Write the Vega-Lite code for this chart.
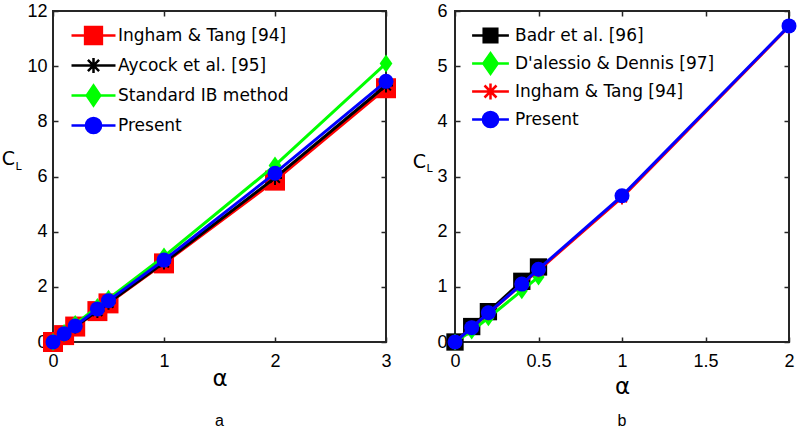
{
  "$schema": "https://vega.github.io/schema/vega-lite/v6.json",
  "padding": {"left": 0, "top": 1, "right": 5, "bottom": 0},
  "spacing": 2,
  "datasets": {
    "a": [
      {"series": "Ingham & Tang [94]", "alpha": 0, "cl": 0},
      {"series": "Ingham & Tang [94]", "alpha": 0.1, "cl": 0.25},
      {"series": "Ingham & Tang [94]", "alpha": 0.2, "cl": 0.56},
      {"series": "Ingham & Tang [94]", "alpha": 0.4, "cl": 1.12},
      {"series": "Ingham & Tang [94]", "alpha": 0.5, "cl": 1.4},
      {"series": "Ingham & Tang [94]", "alpha": 1, "cl": 2.85},
      {"series": "Ingham & Tang [94]", "alpha": 2, "cl": 5.85},
      {"series": "Ingham & Tang [94]", "alpha": 3, "cl": 9.2},
      {"series": "Aycock et al. [95]", "alpha": 0, "cl": 0},
      {"series": "Aycock et al. [95]", "alpha": 0.1, "cl": 0.28},
      {"series": "Aycock et al. [95]", "alpha": 0.2, "cl": 0.56},
      {"series": "Aycock et al. [95]", "alpha": 0.4, "cl": 1.12},
      {"series": "Aycock et al. [95]", "alpha": 0.5, "cl": 1.42},
      {"series": "Aycock et al. [95]", "alpha": 1, "cl": 2.88},
      {"series": "Aycock et al. [95]", "alpha": 2, "cl": 5.95},
      {"series": "Aycock et al. [95]", "alpha": 3, "cl": 9.3},
      {"series": "Standard IB method", "alpha": 0, "cl": 0},
      {"series": "Standard IB method", "alpha": 0.1, "cl": 0.33},
      {"series": "Standard IB method", "alpha": 0.2, "cl": 0.65},
      {"series": "Standard IB method", "alpha": 0.4, "cl": 1.27},
      {"series": "Standard IB method", "alpha": 0.5, "cl": 1.57},
      {"series": "Standard IB method", "alpha": 1, "cl": 3.1},
      {"series": "Standard IB method", "alpha": 2, "cl": 6.4},
      {"series": "Standard IB method", "alpha": 3, "cl": 10.1},
      {"series": "Present", "alpha": 0, "cl": 0},
      {"series": "Present", "alpha": 0.1, "cl": 0.3},
      {"series": "Present", "alpha": 0.2, "cl": 0.58},
      {"series": "Present", "alpha": 0.4, "cl": 1.2},
      {"series": "Present", "alpha": 0.5, "cl": 1.5},
      {"series": "Present", "alpha": 1, "cl": 2.97},
      {"series": "Present", "alpha": 2, "cl": 6.12},
      {"series": "Present", "alpha": 3, "cl": 9.45}
    ],
    "b": [
      {"series": "Badr et al. [96]", "alpha": 0, "cl": 0},
      {"series": "Badr et al. [96]", "alpha": 0.1, "cl": 0.28},
      {"series": "Badr et al. [96]", "alpha": 0.2, "cl": 0.55},
      {"series": "Badr et al. [96]", "alpha": 0.4, "cl": 1.1},
      {"series": "Badr et al. [96]", "alpha": 0.5, "cl": 1.36},
      {"series": "D'alessio & Dennis [97]", "alpha": 0, "cl": 0},
      {"series": "D'alessio & Dennis [97]", "alpha": 0.1, "cl": 0.2},
      {"series": "D'alessio & Dennis [97]", "alpha": 0.2, "cl": 0.44},
      {"series": "D'alessio & Dennis [97]", "alpha": 0.4, "cl": 0.93},
      {"series": "D'alessio & Dennis [97]", "alpha": 0.5, "cl": 1.18},
      {"series": "Ingham & Tang [94]", "alpha": 0, "cl": 0},
      {"series": "Ingham & Tang [94]", "alpha": 0.1, "cl": 0.26},
      {"series": "Ingham & Tang [94]", "alpha": 0.2, "cl": 0.52},
      {"series": "Ingham & Tang [94]", "alpha": 0.4, "cl": 1.05},
      {"series": "Ingham & Tang [94]", "alpha": 0.5, "cl": 1.3},
      {"series": "Ingham & Tang [94]", "alpha": 1, "cl": 2.62},
      {"series": "Ingham & Tang [94]", "alpha": 2, "cl": 5.72},
      {"series": "Present", "alpha": 0, "cl": 0},
      {"series": "Present", "alpha": 0.1, "cl": 0.26},
      {"series": "Present", "alpha": 0.2, "cl": 0.53},
      {"series": "Present", "alpha": 0.4, "cl": 1.05},
      {"series": "Present", "alpha": 0.5, "cl": 1.32},
      {"series": "Present", "alpha": 1, "cl": 2.65},
      {"series": "Present", "alpha": 2, "cl": 5.73}
    ]
  },
  "resolve": {
    "scale": {"color": "independent", "stroke": "independent", "shape": "independent"},
    "legend": {"color": "independent", "stroke": "independent", "shape": "independent"}
  },
  "hconcat": [
    {
      "width": 333,
      "height": 331,
      "data": {"name": "a"},
      "title": {"text": "a", "orient": "bottom", "offset": 23},
      "resolve": {"axis": {"x": "independent", "y": "independent"}},
      "encoding": {
        "x": {"field": "alpha", "type": "quantitative", "scale": {"domain": [0, 3], "nice": false, "zero": false}, "axis": null},
        "y": {"field": "cl", "type": "quantitative", "scale": {"domain": [0, 12], "nice": false, "zero": false}, "axis": null}
      },
      "layer": [
        {
          "mark": {"type": "point", "filled": true, "opacity": 0, "size": 256, "strokeWidth": 2.5},
          "encoding": {
            "x": {"field": "alpha", "type": "quantitative", "scale": {"domain": [0, 3], "nice": false, "zero": false},
              "axis": {"values": [0, 1, 2, 3], "title": "α", "titleFont": "DejaVu Sans", "titleFontSize": 23, "titleY": 43, "titleBaseline": "alphabetic", "labelPadding": 15}},
            "y": {"field": "cl", "type": "quantitative", "scale": {"domain": [0, 12], "nice": false, "zero": false},
              "axis": {"values": [0, 2, 4, 6, 8, 10, 12], "title": "C", "titleAngle": 0, "titleX": -45, "titleY": 147, "titleAlign": "center", "titleBaseline": "middle", "titleFont": "DejaVu Sans", "titleFontSize": 19, "labelPadding": 11}},
            "color": {
              "field": "series", "type": "nominal",
              "scale": {"domain": ["Ingham & Tang [94]", "Aycock et al. [95]", "Standard IB method", "Present"], "range": ["#ff0000", "transparent", "#00ff00", "#0000ff"]},
              "legend": {"orient": "none", "legendX": 31, "legendY": 15, "title": null, "padding": 0, "labelFont": "DejaVu Sans", "labelFontSize": 17, "labelColor": "#000000", "labelLimit": 400, "symbolSize": 256, "symbolStrokeWidth": 2.5, "symbolOpacity": 1, "labelOffset": 15, "rowPadding": -3}
            },
            "stroke": {
              "field": "series", "type": "nominal",
              "scale": {"domain": ["Ingham & Tang [94]", "Aycock et al. [95]", "Standard IB method", "Present"], "range": ["#ff0000", "#000000", "#00ff00", "#0000ff"]},
              "legend": {"orient": "none", "legendX": 31, "legendY": 15, "title": null, "padding": 0, "labelFont": "DejaVu Sans", "labelFontSize": 17, "labelColor": "#000000", "labelLimit": 400, "symbolSize": 256, "symbolStrokeWidth": 2.5, "symbolOpacity": 1, "labelOffset": 15, "rowPadding": -3}
            },
            "shape": {
              "field": "series", "type": "nominal",
              "scale": {"domain": ["Ingham & Tang [94]", "Aycock et al. [95]", "Standard IB method", "Present"], "range": [
                "M-2.75,0L2.75,0M0,-1.35M0,1.35M-1.05,-1.05L1.05,-1.05L1.05,1.05L-1.05,1.05Z",
                "M-2.75,0L2.75,0M0,-1.35M0,1.35M0,-0.95L0,0.95M-0.7,-0.7L0.7,0.7M-0.7,0.7L0.7,-0.7",
                "M-2.75,0L2.75,0M0,-1.35M0,1.35M0,-1.25L0.85,0L0,1.25L-0.85,0Z",
                "M-2.75,0L2.75,0M0,-1.35M0,1.35M-0.95,0C-0.95,-0.525,-0.525,-0.95,0,-0.95C0.525,-0.95,0.95,-0.525,0.95,0C0.95,0.525,0.525,0.95,0,0.95C-0.525,0.95,-0.95,0.525,-0.95,0Z"
              ]},
              "legend": {"orient": "none", "legendX": 31, "legendY": 15, "title": null, "padding": 0, "labelFont": "DejaVu Sans", "labelFontSize": 17, "labelColor": "#000000", "labelLimit": 400, "symbolSize": 256, "symbolStrokeWidth": 2.5, "symbolOpacity": 1, "labelOffset": 15, "rowPadding": -3}
            }
          }
        },
        {
          "transform": [{"filter": {"field": "series", "equal": "Ingham & Tang [94]"}}],
          "mark": {"type": "line", "strokeWidth": 3, "color": "#ff0000"}
        },
        {
          "transform": [{"filter": {"field": "series", "equal": "Ingham & Tang [94]"}}],
          "mark": {"type": "point", "shape": "square", "filled": true, "color": "#ff0000", "size": 400, "opacity": 1}
        },
        {
          "transform": [{"filter": {"field": "series", "equal": "Aycock et al. [95]"}}],
          "mark": {"type": "line", "strokeWidth": 3, "color": "#000000"}
        },
        {
          "transform": [{"filter": {"field": "series", "equal": "Aycock et al. [95]"}}],
          "mark": {"type": "point", "shape": "M-1,0L1,0M0,-1L0,1M-0.7,-0.7L0.7,0.7M-0.7,0.7L0.7,-0.7", "filled": false, "color": "#000000", "size": 196, "strokeWidth": 2, "opacity": 1}
        },
        {
          "transform": [{"filter": {"field": "series", "equal": "Standard IB method"}}],
          "mark": {"type": "line", "strokeWidth": 3, "color": "#00ff00"}
        },
        {
          "transform": [{"filter": {"field": "series", "equal": "Standard IB method"}}],
          "mark": {"type": "point", "shape": "M0,-1.2L0.85,0L0,1.2L-0.85,0Z", "filled": true, "color": "#00ff00", "size": 225, "opacity": 1}
        },
        {
          "transform": [{"filter": {"field": "series", "equal": "Present"}}],
          "mark": {"type": "line", "strokeWidth": 3, "color": "#0000ff"}
        },
        {
          "transform": [{"filter": {"field": "series", "equal": "Present"}}],
          "mark": {"type": "point", "shape": "circle", "filled": true, "color": "#0000ff", "size": 225, "opacity": 1},
          "encoding": {
            "x": {"field": "alpha", "type": "quantitative", "scale": {"domain": [0, 3], "nice": false, "zero": false},
              "axis": {"orient": "top", "values": [0, 1, 2, 3], "labels": false, "title": null}},
            "y": {"field": "cl", "type": "quantitative", "scale": {"domain": [0, 12], "nice": false, "zero": false},
              "axis": {"orient": "right", "values": [0, 2, 4, 6, 8, 10, 12], "labels": false, "title": "L", "titleAngle": 0, "titleX": -368, "titleY": 155, "titleAlign": "center", "titleBaseline": "middle", "titleFont": "DejaVu Sans", "titleFontSize": 11}}
          }
        }
      ]
    },
    {
      "width": 334,
      "height": 331,
      "data": {"name": "b"},
      "title": {"text": "b", "orient": "bottom", "offset": 15},
      "resolve": {"axis": {"x": "independent", "y": "independent"}},
      "encoding": {
        "x": {"field": "alpha", "type": "quantitative", "scale": {"domain": [0, 2], "nice": false, "zero": false}, "axis": null},
        "y": {"field": "cl", "type": "quantitative", "scale": {"domain": [0, 6], "nice": false, "zero": false}, "axis": null}
      },
      "layer": [
        {
          "mark": {"type": "point", "filled": true, "opacity": 0, "size": 256, "strokeWidth": 2.5},
          "encoding": {
            "x": {"field": "alpha", "type": "quantitative", "scale": {"domain": [0, 2], "nice": false, "zero": false},
              "axis": {"values": [0, 0.5, 1, 1.5, 2], "format": "~g", "title": "α", "titleFont": "DejaVu Sans", "titleFontSize": 23, "titleY": 51, "titleBaseline": "alphabetic", "labelPadding": 15}},
            "y": {"field": "cl", "type": "quantitative", "scale": {"domain": [0, 6], "nice": false, "zero": false},
              "axis": {"values": [0, 1, 2, 3, 4, 5, 6], "title": "C", "titleAngle": 0, "titleX": -36, "titleY": 150, "titleAlign": "center", "titleBaseline": "middle", "titleFont": "DejaVu Sans", "titleFontSize": 19, "labelPadding": 13}},
            "color": {
              "field": "series", "type": "nominal",
              "scale": {"domain": ["Badr et al. [96]", "D'alessio & Dennis [97]", "Ingham & Tang [94]", "Present"], "range": ["#000000", "#00ff00", "transparent", "#0000ff"]},
              "legend": {"orient": "none", "legendX": 26, "legendY": 15, "title": null, "padding": 0, "labelFont": "DejaVu Sans", "labelFontSize": 17, "labelColor": "#000000", "labelLimit": 400, "symbolSize": 256, "symbolStrokeWidth": 2.5, "symbolOpacity": 1, "labelOffset": 15, "rowPadding": -5}
            },
            "stroke": {
              "field": "series", "type": "nominal",
              "scale": {"domain": ["Badr et al. [96]", "D'alessio & Dennis [97]", "Ingham & Tang [94]", "Present"], "range": ["#000000", "#00ff00", "#ff0000", "#0000ff"]},
              "legend": {"orient": "none", "legendX": 26, "legendY": 15, "title": null, "padding": 0, "labelFont": "DejaVu Sans", "labelFontSize": 17, "labelColor": "#000000", "labelLimit": 400, "symbolSize": 256, "symbolStrokeWidth": 2.5, "symbolOpacity": 1, "labelOffset": 15, "rowPadding": -5}
            },
            "shape": {
              "field": "series", "type": "nominal",
              "scale": {"domain": ["Badr et al. [96]", "D'alessio & Dennis [97]", "Ingham & Tang [94]", "Present"], "range": [
                "M-2.3,0L2.3,0M0,-1.35M0,1.35M-0.85,-0.85L0.85,-0.85L0.85,0.85L-0.85,0.85Z",
                "M-2.3,0L2.3,0M0,-1.35M0,1.35M0,-1.3L0.9,0L0,1.3L-0.9,0Z",
                "M-2.3,0L2.3,0M0,-1.35M0,1.35M0,-1L0,1M-0.75,-0.75L0.75,0.75M-0.75,0.75L0.75,-0.75",
                "M-2.3,0L2.3,0M0,-1.35M0,1.35M-0.95,0C-0.95,-0.525,-0.525,-0.95,0,-0.95C0.525,-0.95,0.95,-0.525,0.95,0C0.95,0.525,0.525,0.95,0,0.95C-0.525,0.95,-0.95,0.525,-0.95,0Z"
              ]},
              "legend": {"orient": "none", "legendX": 26, "legendY": 15, "title": null, "padding": 0, "labelFont": "DejaVu Sans", "labelFontSize": 17, "labelColor": "#000000", "labelLimit": 400, "symbolSize": 256, "symbolStrokeWidth": 2.5, "symbolOpacity": 1, "labelOffset": 15, "rowPadding": -5}
            }
          }
        },
        {
          "transform": [{"filter": {"field": "series", "equal": "Badr et al. [96]"}}],
          "mark": {"type": "line", "strokeWidth": 3, "color": "#000000"}
        },
        {
          "transform": [{"filter": {"field": "series", "equal": "Badr et al. [96]"}}],
          "mark": {"type": "point", "shape": "square", "filled": true, "color": "#000000", "size": 300, "opacity": 1}
        },
        {
          "transform": [{"filter": {"field": "series", "equal": "D'alessio & Dennis [97]"}}],
          "mark": {"type": "line", "strokeWidth": 3, "color": "#00ff00"}
        },
        {
          "transform": [{"filter": {"field": "series", "equal": "D'alessio & Dennis [97]"}}],
          "mark": {"type": "point", "shape": "M0,-1.2L0.85,0L0,1.2L-0.85,0Z", "filled": true, "color": "#00ff00", "size": 200, "opacity": 1}
        },
        {
          "transform": [{"filter": {"field": "series", "equal": "Ingham & Tang [94]"}}],
          "mark": {"type": "line", "strokeWidth": 3, "color": "#ff0000"}
        },
        {
          "transform": [{"filter": {"field": "series", "equal": "Ingham & Tang [94]"}}],
          "mark": {"type": "point", "shape": "M-1,0L1,0M0,-1L0,1M-0.7,-0.7L0.7,0.7M-0.7,0.7L0.7,-0.7", "filled": false, "color": "#ff0000", "size": 196, "strokeWidth": 2, "opacity": 1}
        },
        {
          "transform": [{"filter": {"field": "series", "equal": "Present"}}],
          "mark": {"type": "line", "strokeWidth": 3, "color": "#0000ff"}
        },
        {
          "transform": [{"filter": {"field": "series", "equal": "Present"}}],
          "mark": {"type": "point", "shape": "circle", "filled": true, "color": "#0000ff", "size": 225, "opacity": 1},
          "encoding": {
            "x": {"field": "alpha", "type": "quantitative", "scale": {"domain": [0, 2], "nice": false, "zero": false},
              "axis": {"orient": "top", "values": [0, 0.5, 1, 1.5, 2], "labels": false, "title": null}},
            "y": {"field": "cl", "type": "quantitative", "scale": {"domain": [0, 6], "nice": false, "zero": false},
              "axis": {"orient": "right", "values": [0, 1, 2, 3, 4, 5, 6], "labels": false, "title": "L", "titleAngle": 0, "titleX": -360, "titleY": 157, "titleAlign": "center", "titleBaseline": "middle", "titleFont": "DejaVu Sans", "titleFontSize": 11}}
          }
        }
      ]
    }
  ],
  "config": {
    "background": "#ffffff",
    "view": {"stroke": "#262626", "strokeWidth": 2},
    "axis": {
      "domain": false, "grid": false,
      "tickColor": "#262626", "tickWidth": 1.5, "tickSize": -5,
      "labelFont": "Liberation Sans", "labelFontSize": 18, "labelColor": "#000000",
      "labelFlush": false, "labelOverlap": false, "labelBound": false,
      "titleColor": "#000000", "titleFontWeight": "normal"
    },
    "title": {"font": "Liberation Sans", "fontSize": 16, "fontWeight": "normal", "color": "#000000"}
  }
}
